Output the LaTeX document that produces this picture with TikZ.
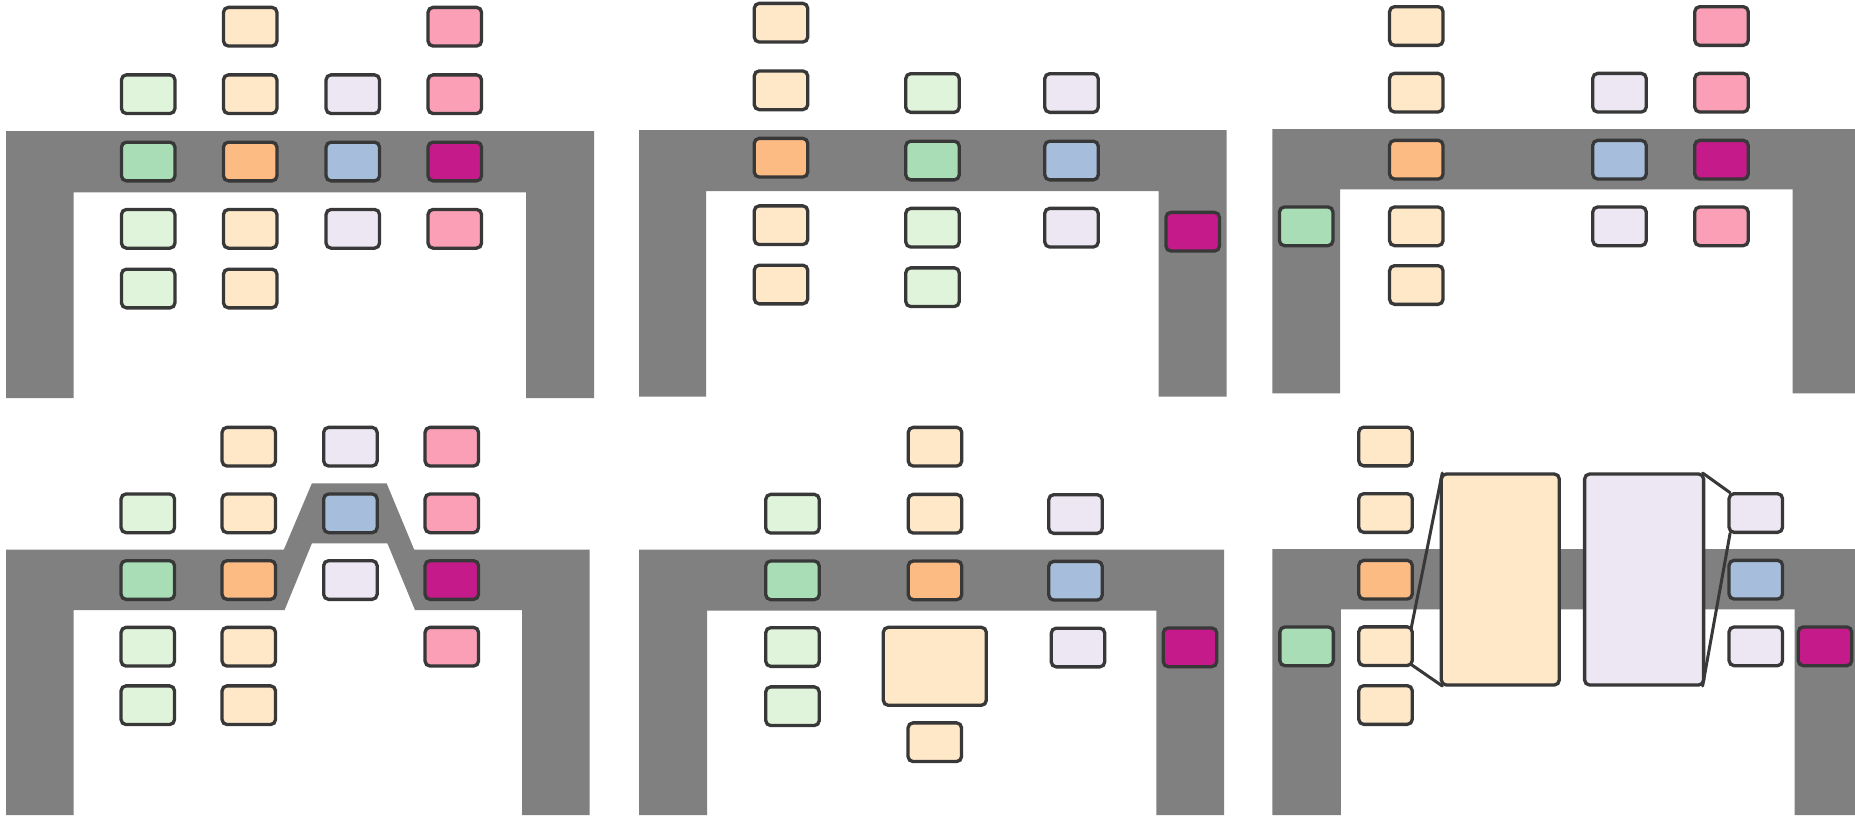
\documentclass[tikz,border=0pt]{standalone}
\definecolor{lg}{HTML}{E0F3DB}
\definecolor{mg}{HTML}{A8DDB5}
\definecolor{lo}{HTML}{FEE8C8}
\definecolor{og}{HTML}{FDBB84}
\definecolor{lv}{HTML}{ECE7F2}
\definecolor{bl}{HTML}{A6BDDB}
\definecolor{pk}{HTML}{FA9FB5}
\definecolor{mgt}{HTML}{C51B8A}
\definecolor{wall}{HTML}{808080}
\definecolor{edge}{HTML}{383838}
\begin{document}
\begin{tikzpicture}[x=1pt,y=-1pt,
  bx/.style={rectangle, draw=edge, line width=3.3pt, rounded corners=5pt,
    minimum width=53.5pt, minimum height=38.7pt, inner sep=0pt, outer sep=0pt},
  wallfill/.style={fill=wall},
  zoomline/.style={draw=edge, line width=3pt, line cap=round}]
\path[fill=white] (0,0) rectangle (1855,815);
\useasboundingbox (0,0) rectangle (1855,815);
% ---- walls ----
\fill[wallfill] (6,131) -- (594,131) -- (594,398) -- (526,398) -- (526,192.3) -- (73.5,192.3) -- (73.5,398) -- (6,398) -- cycle;
\fill[wallfill] (639,130) -- (1226.7,130) -- (1226.7,396.7) -- (1158.7,396.7) -- (1158.7,191) -- (706.2,191) -- (706.2,396.7) -- (639,396.7) -- cycle;
\fill[wallfill] (1272.4,129) -- (1855,129) -- (1855,393.3) -- (1792.6,393.3) -- (1792.6,189.3) -- (1340,189.3) -- (1340,393.3) -- (1272.4,393.3) -- cycle;
\fill[wallfill] (6,549.7) -- (283.8,549.7) -- (311.9,483.3) -- (386.6,483.3) -- (414.2,549.7) -- (589.7,549.7) -- (589.7,815) -- (522,815) -- (522,610) -- (415,610) -- (387.4,543.3) -- (311.9,543.3) -- (284.6,610) -- (73.5,610) -- (73.5,815) -- (6,815) -- cycle;
\fill[wallfill] (639,549.7) -- (1224,549.7) -- (1224,815) -- (1156.4,815) -- (1156.4,610.7) -- (707,610.7) -- (707,815) -- (639,815) -- cycle;
\fill[wallfill] (1272.4,549) -- (1855,549) -- (1855,815) -- (1794.5,815) -- (1794.5,609.3) -- (1340.8,609.3) -- (1340.8,815) -- (1272.4,815) -- cycle;
% ---- panel 1 ----
\node[bx,fill=lg]  (a11) at (148.2,94.2) {};
\node[bx,fill=mg]  (a12) at (148.2,161.5) {};
\node[bx,fill=lg]  (a13) at (148.2,228.8) {};
\node[bx,fill=lg]  (a14) at (148.2,288.5) {};
\node[bx,fill=lo]  (a20) at (250.2,26.7) {};
\node[bx,fill=lo]  (a21) at (250.2,94.2) {};
\node[bx,fill=og]  (a22) at (250.2,161.5) {};
\node[bx,fill=lo]  (a23) at (250.2,228.8) {};
\node[bx,fill=lo]  (a24) at (250.2,288.5) {};
\node[bx,fill=lv]  (a31) at (352.8,94.2) {};
\node[bx,fill=bl]  (a32) at (352.8,161.5) {};
\node[bx,fill=lv]  (a33) at (352.8,228.8) {};
\node[bx,fill=pk]  (a40) at (454.8,26.7) {};
\node[bx,fill=pk]  (a41) at (454.8,94.2) {};
\node[bx,fill=mgt] (a42) at (454.8,161.5) {};
\node[bx,fill=pk]  (a43) at (454.8,228.8) {};
% ---- panel 2 ----
\node[bx,fill=lo]  (b10) at (781,22.7) {};
\node[bx,fill=lo]  (b11) at (781,90.3) {};
\node[bx,fill=og]  (b12) at (781,157.7) {};
\node[bx,fill=lo]  (b13) at (781,225.2) {};
\node[bx,fill=lo]  (b14) at (781,284.5) {};
\node[bx,fill=lg]  (b21) at (932.5,93) {};
\node[bx,fill=mg]  (b22) at (932.5,160.5) {};
\node[bx,fill=lg]  (b23) at (932.5,227.7) {};
\node[bx,fill=lg]  (b24) at (932.5,287.2) {};
\node[bx,fill=lv]  (b31) at (1071.5,93) {};
\node[bx,fill=bl]  (b32) at (1071.5,160.5) {};
\node[bx,fill=lv]  (b33) at (1071.5,227.7) {};
\node[bx,fill=mgt] (b43) at (1192.7,231.7) {};
% ---- panel 3 ----
\node[bx,fill=mg]  (c13) at (1306.2,226.3) {};
\node[bx,fill=lo]  (c20) at (1416.3,26) {};
\node[bx,fill=lo]  (c21) at (1416.3,92.7) {};
\node[bx,fill=og]  (c22) at (1416.3,159.7) {};
\node[bx,fill=lo]  (c23) at (1416.3,226.3) {};
\node[bx,fill=lo]  (c24) at (1416.3,285) {};
\node[bx,fill=lv]  (c31) at (1619.5,92.7) {};
\node[bx,fill=bl]  (c32) at (1619.5,159.7) {};
\node[bx,fill=lv]  (c33) at (1619.5,226.3) {};
\node[bx,fill=pk]  (c40) at (1721.5,26) {};
\node[bx,fill=pk]  (c41) at (1721.5,92.7) {};
\node[bx,fill=mgt] (c42) at (1721.5,159.7) {};
\node[bx,fill=pk]  (c43) at (1721.5,226.3) {};
% ---- panel 4 ----
\node[bx,fill=lg]  (d11) at (147.8,513.3) {};
\node[bx,fill=mg]  (d12) at (147.8,580) {};
\node[bx,fill=lg]  (d13) at (147.8,646.7) {};
\node[bx,fill=lg]  (d14) at (147.8,705.2) {};
\node[bx,fill=lo]  (d20) at (248.8,446.7) {};
\node[bx,fill=lo]  (d21) at (248.8,513.3) {};
\node[bx,fill=og]  (d22) at (248.8,580) {};
\node[bx,fill=lo]  (d23) at (248.8,646.7) {};
\node[bx,fill=lo]  (d24) at (248.8,705.2) {};
\node[bx,fill=lv]  (d30) at (350.4,446.7) {};
\node[bx,fill=bl]  (d31) at (350.4,513.3) {};
\node[bx,fill=lv]  (d32) at (350.4,580) {};
\node[bx,fill=pk]  (d40) at (451.8,446.7) {};
\node[bx,fill=pk]  (d41) at (451.8,513.3) {};
\node[bx,fill=mgt] (d42) at (451.8,580) {};
\node[bx,fill=pk]  (d43) at (451.8,646.7) {};
% ---- panel 5 ----
\node[bx,fill=lg]  (e11) at (792.5,513.7) {};
\node[bx,fill=mg]  (e12) at (792.5,580.3) {};
\node[bx,fill=lg]  (e13) at (792.5,647) {};
\node[bx,fill=lg]  (e14) at (792.5,706.2) {};
\node[bx,fill=lo]  (e20) at (935,446.7) {};
\node[bx,fill=lo]  (e21) at (935,513.7) {};
\node[bx,fill=og]  (e22) at (935,580.3) {};
\node[bx,fill=lo,minimum width=103pt,minimum height=78pt] (e2big) at (934.8,666.3) {};
\node[bx,fill=lo]  (e25) at (934.8,742.2) {};
\node[bx,fill=lv]  (e31) at (1075.5,514) {};
\node[bx,fill=bl]  (e32) at (1075.5,580.7) {};
\node[bx,fill=lv]  (e33) at (1078,647.5) {};
\node[bx,fill=mgt] (e43) at (1190,647.3) {};
% ---- panel 6 ----
\node[bx,fill=mg]  (f13) at (1306.6,646.3) {};
\node[bx,fill=lo]  (f20) at (1385.5,446.5) {};
\node[bx,fill=lo]  (f21) at (1385.5,513) {};
\node[bx,fill=og]  (f22) at (1385.5,579.7) {};
\node[bx,fill=lo]  (f23) at (1385.5,646.2) {};
\node[bx,fill=lo]  (f24) at (1385.5,705) {};
\node[bx,fill=lo,minimum width=118pt,minimum height=211pt] (fbigo) at (1500.3,579.5) {};
\node[bx,fill=lv,minimum width=119pt,minimum height=211pt] (fbigl) at (1644.1,579.5) {};
\node[bx,fill=lv]  (f31) at (1755.8,513) {};
\node[bx,fill=bl]  (f32) at (1755.8,579.7) {};
\node[bx,fill=lv]  (f33) at (1755.8,646.3) {};
\node[bx,fill=mgt] (f43) at (1825,646.3) {};
% zoom connectors
\draw[zoomline] ([xshift=-1pt,yshift=-1pt]f23.north east) -- ([xshift=1pt,yshift=1pt]fbigo.north west);
\draw[zoomline] ([xshift=-1pt,yshift=1pt]f23.south east) -- ([xshift=1pt,yshift=-1pt]fbigo.south west);
\draw[zoomline] ([xshift=-1pt,yshift=1pt]fbigl.north east) -- ([xshift=1pt,yshift=1pt]f31.north west);
\draw[zoomline] ([xshift=-1pt,yshift=-1pt]fbigl.south east) -- ([xshift=1pt,yshift=-1pt]f31.south west);
\end{tikzpicture}
\end{document}
